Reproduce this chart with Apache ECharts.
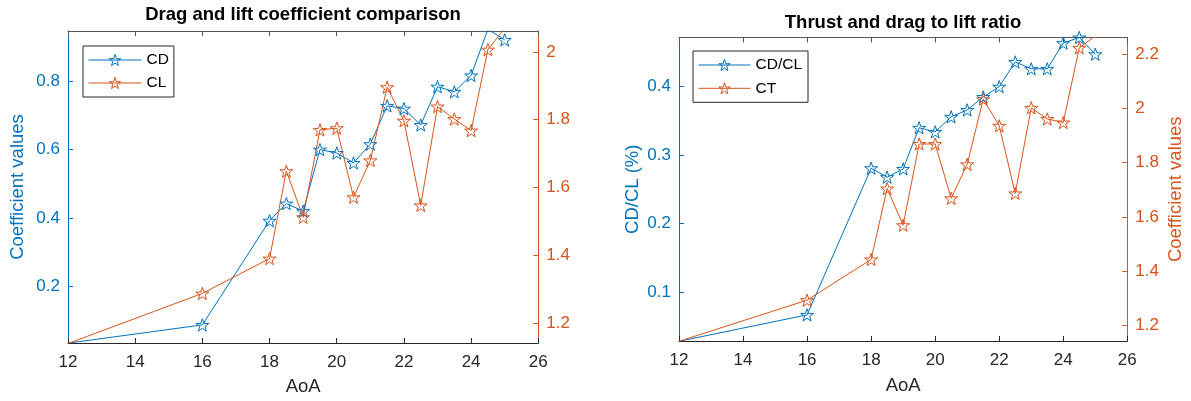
<!DOCTYPE html>
<html>
<head>
<meta charset="utf-8">
<title>Drag, lift and thrust coefficients</title>
<script src="https://cdn.jsdelivr.net/npm/echarts@6/dist/echarts.min.js"></script>
<style>
  html, body { margin: 0; padding: 0; background: #fff; }
  #chart { width: 1191px; height: 401px; }
</style>
</head>
<body>
<div id="chart"></div>
<script>
// Angle of attack (degrees)
const aoa = [12, 16, 18, 18.5, 19, 19.5, 20, 20.5, 21, 21.5, 22, 22.5, 23, 23.5, 24, 24.5, 25];

// Left panel: drag and lift coefficients
const cd = [0.0335, 0.087, 0.392, 0.442, 0.420, 0.600, 0.590, 0.561, 0.616, 0.728, 0.720, 0.672, 0.784, 0.769, 0.817, 0.952, 0.921];
const cl = [1.139, 1.287, 1.390, 1.648, 1.512, 1.770, 1.775, 1.571, 1.680, 1.896, 1.797, 1.547, 1.839, 1.802, 1.768, 2.007, 2.070];

// Right panel: drag-to-lift ratio and thrust coefficient
const cdcl = [0.0285, 0.067, 0.281, 0.268, 0.280, 0.340, 0.334, 0.356, 0.366, 0.385, 0.400, 0.436, 0.426, 0.426, 0.4635, 0.4717, 0.4474];
const ct = [1.1425, 1.294, 1.444, 1.705, 1.570, 1.869, 1.869, 1.669, 1.794, 2.034, 1.936, 1.687, 2.002, 1.961, 1.948, 2.223, 2.266];

// Axis ranges and tick labels
const xTicks = [12, 14, 16, 18, 20, 22, 24, 26];
const leftRange1 = [0.034, 0.947];
const rightRange1 = [1.1406, 2.062];
const leftTicks1 = [0.2, 0.4, 0.6, 0.8];
const rightTicks1 = [1.2, 1.4, 1.6, 1.8, 2];
const leftRange2 = [0.0289, 0.4717];
const rightRange2 = [1.1436, 2.261];
const leftTicks2 = [0.1, 0.2, 0.3, 0.4];
const rightTicks2 = [1.2, 1.4, 1.6, 1.8, 2, 2.2];

const BLUE = '#0072BD';
const ORANGE = '#D95319';
const DARK = '#262626';
const HOLLOW = 'rgba(255,255,255,0)';
const FONT = '"Liberation Sans", Arial, Helvetica, sans-serif';
const STAR = 'path://M50,0 L61.8,35.1 L97.6,34.5 L69.1,56.7 L79.4,90.5 L50,70 L20.6,90.5 L30.9,56.7 L2.4,34.5 L38.2,35.1 Z';

const pairs = (xs, ys) => xs.map((x, i) => [x, ys[i]]);

function xAxes(gridIndex) {
  return [
    {
      type: 'value', gridIndex, position: 'bottom',
      min: xTicks[0], max: xTicks[xTicks.length - 1], interval: 2,
      name: 'AoA', nameLocation: 'middle', nameGap: gridIndex === 0 ? 34 : 35,
      nameTextStyle: { color: DARK, fontSize: 18.5, fontFamily: FONT },
      axisLine: { show: true, lineStyle: { color: DARK, width: 1 } },
      axisTick: { show: true, inside: true, length: 5, lineStyle: { color: DARK } },
      axisLabel: { color: DARK, fontSize: 17, fontFamily: FONT, margin: 11 },
      splitLine: { show: false }
    },
    {
      type: 'value', gridIndex, position: 'top',
      min: xTicks[0], max: xTicks[xTicks.length - 1], interval: 2,
      axisLine: { show: true, lineStyle: { color: '#555', width: 1 } },
      axisTick: { show: true, inside: true, length: 5, lineStyle: { color: '#555' } },
      axisLabel: { show: false },
      splitLine: { show: false }
    }
  ];
}

function yAxis(gridIndex, position, range, ticks, color, name, nameGap) {
  return {
    type: 'value', gridIndex, position,
    min: range[0], max: range[1],
    name, nameLocation: 'middle', nameGap, nameRotate: 90,
    nameTextStyle: { color, fontSize: 18.5, fontFamily: FONT },
    axisLine: { show: true, onZero: false, lineStyle: { color, width: 1 } },
    axisTick: { show: true, inside: true, length: 5, customValues: ticks, lineStyle: { color } },
    axisLabel: { color, fontSize: 17, fontFamily: FONT, margin: 8, customValues: ticks },
    splitLine: { show: false }
  };
}

function lineSeries(name, xAxisIndex, yAxisIndex, data, color) {
  return {
    type: 'line', name, xAxisIndex, yAxisIndex, data,
    clip: true,
    symbol: STAR, symbolSize: 13, symbolKeepAspect: true,
    showAllSymbol: true,
    lineStyle: { color, width: 1 },
    itemStyle: { color: HOLLOW, borderColor: color, borderWidth: 1 },
    emphasis: { disabled: true },
    animation: false
  };
}

// Legend entry: thin line with a hollow star in the middle
function legendItem(name, color) {
  return {
    name,
    itemStyle: { color: HOLLOW, borderColor: color, borderWidth: 1 },
    lineStyle: { color, width: 1 }
  };
}

const legendBase = {
  orient: 'vertical',
  backgroundColor: '#fff',
  borderColor: DARK, borderWidth: 1, borderRadius: 0,
  itemWidth: 53, itemHeight: 14,
  textStyle: { color: '#000', fontSize: 15.5, fontFamily: FONT },
  selectedMode: false
};

const chart = echarts.init(document.getElementById('chart'), null, { renderer: 'canvas' });
chart.setOption({
  animation: false,
  backgroundColor: '#fff',
  grid: [
    { left: 68, top: 31, right: 652.7, bottom: 55, containLabel: false },
    { left: 679, top: 37.5, right: 63.7, bottom: 60, containLabel: false }
  ],
  xAxis: [...xAxes(0), ...xAxes(1)],
  yAxis: [
    yAxis(0, 'left', leftRange1, leftTicks1, BLUE, 'Coefficient values', 41),
    yAxis(0, 'right', rightRange1, rightTicks1, ORANGE, '', 40),
    yAxis(1, 'left', leftRange2, leftTicks2, BLUE, 'CD/CL (%)', 37),
    yAxis(1, 'right', rightRange2, rightTicks2, ORANGE, 'Coefficient values', 39)
  ],
  legend: [
    Object.assign({}, legendBase, {
      data: [legendItem('CD', BLUE), legendItem('CL', ORANGE)],
      left: 83, top: 46, padding: [6, 5, 6, 5], itemGap: 7
    }),
    Object.assign({}, legendBase, {
      data: [legendItem('CD/CL', BLUE), legendItem('CT', ORANGE)],
      left: 693, top: 51, padding: [6, 6, 6, 5], itemGap: 7.3, itemWidth: 52
    })
  ],
  graphic: [
    {
      type: 'text', x: 303, y: 15,
      style: {
        text: 'Drag and lift coefficient comparison', fill: '#000',
        font: 'bold 18.5px ' + FONT, textAlign: 'center', textVerticalAlign: 'middle'
      }
    },
    {
      type: 'text', x: 903, y: 22.5,
      style: {
        text: 'Thrust and drag to lift ratio', fill: '#000',
        font: 'bold 18.5px ' + FONT, textAlign: 'center', textVerticalAlign: 'middle'
      }
    }
  ],
  series: [
    lineSeries('CD', 0, 0, pairs(aoa, cd), BLUE),
    lineSeries('CL', 0, 1, pairs(aoa, cl), ORANGE),
    lineSeries('CD/CL', 2, 2, pairs(aoa, cdcl), BLUE),
    lineSeries('CT', 2, 3, pairs(aoa, ct), ORANGE)
  ]
});
</script>
</body>
</html>
